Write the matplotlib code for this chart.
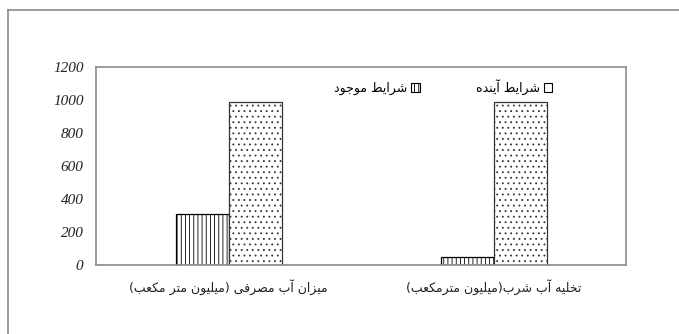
import matplotlib
matplotlib.use('Agg')
import matplotlib.pyplot as plt
from matplotlib.lines import Line2D
from matplotlib.patches import Patch

# ========== Data ==========
categories = ['میزان آب مصرفی (میلیون متر مکعب)', 'تخلیه آب شرب(میلیون مترمکعب)']
current = [310, 50]      # شرایط موجود
future = [990, 990]      # شرایط آینده
series_labels = ['شرایط موجود', 'شرایط آینده']
yticks = [0, 200, 400, 600, 800, 1000, 1200]

# ========== Minimal Persian shaping (matplotlib has no bidi/joining) ==========
# char -> (isolated, final, initial, medial); two-form letters don't join leftwards
FORMS = {
    'ا': ('\uFE8D', '\uFE8E'),
    'آ': ('\uFE81', '\uFE82'),
    'د': ('\uFEA9', '\uFEAA'),
    'ر': ('\uFEAD', '\uFEAE'),
    'ز': ('\uFEAF', '\uFEB0'),
    'و': ('\uFEED', '\uFEEE'),
    'ب': ('\uFE8F', '\uFE90', '\uFE91', '\uFE92'),
    'ت': ('\uFE95', '\uFE96', '\uFE97', '\uFE98'),
    'ج': ('\uFE9D', '\uFE9E', '\uFE9F', '\uFEA0'),
    'خ': ('\uFEA5', '\uFEA6', '\uFEA7', '\uFEA8'),
    'ش': ('\uFEB5', '\uFEB6', '\uFEB7', '\uFEB8'),
    'ص': ('\uFEB9', '\uFEBA', '\uFEBB', '\uFEBC'),
    'ط': ('\uFEC1', '\uFEC2', '\uFEC3', '\uFEC4'),
    'ع': ('\uFEC9', '\uFECA', '\uFECB', '\uFECC'),
    'ف': ('\uFED1', '\uFED2', '\uFED3', '\uFED4'),
    'ل': ('\uFEDD', '\uFEDE', '\uFEDF', '\uFEE0'),
    'م': ('\uFEE1', '\uFEE2', '\uFEE3', '\uFEE4'),
    'ن': ('\uFEE5', '\uFEE6', '\uFEE7', '\uFEE8'),
    'ه': ('\uFEE9', '\uFEEA', '\uFEEB', '\uFEEC'),
    'ی': ('\uFBFC', '\uFBFD', '\uFBFE', '\uFBFF'),
    'ک': ('\uFB8E', '\uFB8F', '\uFB90', '\uFB91'),
}
MIRROR = {'(': ')', ')': '('}


def fa(text):
    out = []
    for i, ch in enumerate(text):
        f = FORMS.get(ch)
        if f is None:
            out.append(MIRROR.get(ch, ch))
            continue
        prev = text[i - 1] if i > 0 else ''
        nxt = text[i + 1] if i + 1 < len(text) else ''
        joins_prev = prev in FORMS and len(FORMS[prev]) == 4
        joins_next = len(f) == 4 and nxt in FORMS
        if joins_prev and joins_next:
            out.append(f[3])
        elif joins_prev:
            out.append(f[1])
        elif joins_next:
            out.append(f[2])
        else:
            out.append(f[0])
    return ''.join(reversed(out))


# ========== Style ==========
plt.rcParams.update({
    'font.family': ['DejaVu Sans'],
    'hatch.linewidth': 0.6,
    'hatch.color': 'black',
})

fig = plt.figure(figsize=(6.79, 3.34), dpi=100)
ax = fig.add_axes([96 / 679, 69 / 334, 530 / 679, 198 / 334])

# outer frame (left and top edges only)
fx, fy = 8 / 679, 1 - 10 / 334
fig.add_artist(Line2D([fx, fx], [0, fy], transform=fig.transFigure, color='#8a8a8a', lw=1.2))
fig.add_artist(Line2D([fx, 1], [fy, fy], transform=fig.transFigure, color='#8a8a8a', lw=1.2))

x = list(range(len(categories)))
w = 0.2
ax.bar([i - w / 2 for i in x], current, width=w, color='white', edgecolor='black',
       linewidth=0.9, hatch='||||')
ax.bar([i + w / 2 for i in x], future, width=w, color='white', edgecolor='#333333',
       linewidth=0.9, hatch='...')

ax.set_xlim(-0.5, 1.5)
ax.set_ylim(0, 1200)
ax.set_yticks(yticks)
ax.set_yticklabels([str(v) for v in yticks], family='Liberation Serif', style='italic',
                   fontsize=11, color='#222222')
ax.set_xticks(x)
ax.set_xticklabels([fa(c) for c in categories], fontsize=9, color='#222222')
ax.tick_params(axis='x', length=0, pad=10)
ax.tick_params(axis='y', length=0, pad=9)

for s in ax.spines.values():
    s.set_color('#8a8a8a')
    s.set_linewidth(1.2)

handles = [Patch(facecolor='white', edgecolor='black', hatch='||||', linewidth=0.8),
           Patch(facecolor='white', edgecolor='black', linewidth=0.8)]
ax.legend(handles, [fa(s) for s in series_labels], ncol=2, markerfirst=False,
          frameon=False, fontsize=9, handlelength=0.7, handleheight=0.7,
          handletextpad=0.3, columnspacing=4.5,
          loc='center', bbox_to_anchor=(443 / 679, 1 - 87 / 334),
          bbox_transform=fig.transFigure)

fig.savefig('out.png', dpi=100)
